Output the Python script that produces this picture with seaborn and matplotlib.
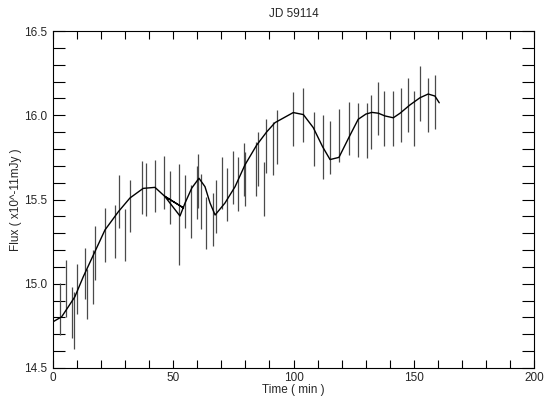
import numpy as np
import pandas as pd
import matplotlib
matplotlib.use("Agg")
import matplotlib.pyplot as plt
from matplotlib.ticker import MultipleLocator, FixedLocator, FormatStrFormatter
import seaborn as sns

# Observations (time in min, flux, 1-sigma error)
obs_time = [2.8, 5.5, 8.0, 8.7, 10.0, 13.2, 14.1, 16.8, 17.5, 21.8, 25.7, 27.6, 29.9, 31.9,
            36.9, 38.7, 42.4, 46.3, 48.6, 52.4, 54.9, 57.3, 59.8, 60.4, 61.5, 63.6, 66.7,
            67.8, 70.4, 72.2, 74.7, 77.1, 79.4, 79.8, 84.3, 85.4, 87.9, 88.6, 91.6, 93.0,
            99.9, 104.1, 108.5, 112.1, 115.2, 118.9, 123.2, 126.9, 130.7, 132.1, 135.3,
            137.6, 141.2, 144.6, 147.7, 150.1, 152.6, 155.8, 158.8]
obs_flux = [14.85, 14.97, 14.83, 14.78, 14.97, 15.06, 14.94, 15.04, 15.18, 15.29, 15.31, 15.49,
            15.29, 15.46, 15.57, 15.56, 15.58, 15.60, 15.51, 15.41, 15.49, 15.43, 15.54, 15.61,
            15.49, 15.36, 15.38, 15.46, 15.60, 15.53, 15.63, 15.59, 15.68, 15.62, 15.68, 15.74,
            15.56, 15.82, 15.80, 15.87, 15.98, 16.00, 15.86, 15.81, 15.81, 15.88, 15.92, 15.91,
            15.91, 15.96, 16.04, 15.98, 15.98, 16.00, 16.06, 15.98, 16.13, 16.06, 16.08]
obs_err = [0.154, 0.17, 0.15, 0.17, 0.15, 0.15, 0.15, 0.16, 0.16, 0.16, 0.155, 0.157,
           0.155, 0.155, 0.157, 0.157, 0.157, 0.157, 0.157, 0.30, 0.157, 0.157, 0.157, 0.16,
           0.163, 0.155, 0.157, 0.157, 0.155, 0.157, 0.157, 0.16, 0.157, 0.16, 0.16, 0.16,
           0.16, 0.16, 0.157, 0.16, 0.16, 0.16, 0.16, 0.19, 0.157, 0.16, 0.157, 0.16,
           0.163, 0.163, 0.16, 0.163, 0.163, 0.16, 0.16, 0.163, 0.163, 0.16, 0.16]

# Smoothed curve (drawn in recorded order)
fit_time = [0.1, 3.6, 6.4, 9.1, 12.6, 16.8, 21.6, 27.2, 32.0, 37.5, 42.4, 46.6, 54.3, 46.4,
            52.8, 54.9, 57.7, 60.7, 63.2, 65.3, 67.4, 71.5, 75.7, 79.8, 84.7, 88.9, 92.3,
            99.9, 104.1, 108.2, 112.1, 115.2, 118.9, 123.2, 126.9, 130.1, 132.6, 135.3,
            138.0, 141.5, 144.3, 148.4, 152.6, 156.0, 158.8, 160.6]
fit_flux = [14.775, 14.804, 14.864, 14.923, 15.042, 15.171, 15.319, 15.428, 15.509, 15.566,
            15.572, 15.517, 15.450, 15.52, 15.402, 15.479, 15.568, 15.626, 15.576, 15.479,
            15.408, 15.479, 15.576, 15.705, 15.823, 15.902, 15.956, 16.016, 16.004, 15.927,
            15.813, 15.737, 15.750, 15.873, 15.976, 16.007, 16.017, 16.012, 15.996, 15.985,
            16.012, 16.061, 16.104, 16.126, 16.114, 16.074]

x_ticklabels = ["0", "50", "100", "150", "200"]
y_ticklabels = ["14.5", "15.0", "15.5", "16.0", "16.5"]

sns.set_style("ticks")
plt.rcParams["font.family"] = ["Liberation Sans", "DejaVu Sans"]

fig = plt.figure(figsize=(5.5, 3.99), dpi=100)
ax = fig.add_axes([53 / 550, 1 - 368 / 399, (534 - 53) / 550, (368 - 31) / 399])

ax.errorbar(obs_time, obs_flux, yerr=obs_err, fmt="none", ecolor="#4a4a4a",
            elinewidth=0.9, capsize=0)

fit_df = pd.DataFrame({"t": fit_time, "f": fit_flux})
sns.lineplot(data=fit_df, x="t", y="f", sort=False, estimator=None, color="black",
             linewidth=1.0, ax=ax)

ax.set_xlim(0, 200)
ax.set_ylim(14.5, 16.5)
ax.xaxis.set_major_locator(FixedLocator([0, 50, 100, 150, 200]))
ax.set_xticklabels(x_ticklabels)
ax.xaxis.set_minor_locator(MultipleLocator(10))
ax.yaxis.set_major_locator(FixedLocator([14.5, 15.0, 15.5, 16.0, 16.5]))
ax.set_yticklabels(y_ticklabels)
ax.yaxis.set_minor_locator(MultipleLocator(0.1))

ax.tick_params(axis="x", which="both", direction="in", length=6.1, width=0.8,
               top=True, bottom=True, color="black", labelsize=8.5, pad=3)
ax.tick_params(axis="y", which="both", direction="in", length=8.7, width=0.8,
               left=True, right=True, color="black", labelsize=8.5, pad=4)
for s in ax.spines.values():
    s.set_color("black")
    s.set_linewidth(0.8)

ax.set_xlabel("Time ( min )", fontsize=8.5, labelpad=0)
ax.set_ylabel("Flux ( x10^-11mJy )", fontsize=8.5, labelpad=2)
ax.set_title("JD 59114", fontsize=8.5, pad=10)

fig.savefig("out.png", dpi=100)
